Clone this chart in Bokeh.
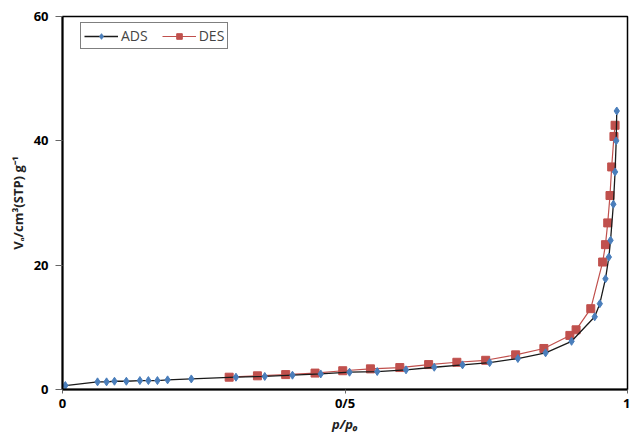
from bokeh.plotting import figure
from bokeh.models import FixedTicker, Legend, LegendItem, Range1d
from bokeh.embed import file_html
from bokeh.resources import INLINE

# Adsorption branch (ADS)
ads_p = [0.005, 0.062, 0.078, 0.092, 0.113, 0.137, 0.152, 0.168, 0.186, 0.228,
         0.307, 0.358, 0.407, 0.457, 0.508, 0.557, 0.608, 0.658, 0.708, 0.756,
         0.806, 0.855, 0.901, 0.942, 0.951, 0.961, 0.967, 0.970, 0.975, 0.978,
         0.980, 0.981]
ads_v = [0.64, 1.23, 1.23, 1.33, 1.33, 1.44, 1.44, 1.44, 1.55, 1.70,
         1.98, 2.10, 2.30, 2.50, 2.78, 2.89, 3.16, 3.58, 3.96, 4.33,
         4.98, 5.90, 7.75, 11.7, 13.8, 17.8, 21.3, 24.0, 29.8, 35.0,
         40.0, 44.8]

# Desorption branch (DES)
des_p = [0.295, 0.345, 0.395, 0.447, 0.496, 0.545, 0.597, 0.648, 0.698, 0.749,
         0.802, 0.852, 0.898, 0.909, 0.935, 0.956, 0.961, 0.965, 0.969, 0.972,
         0.976, 0.978]
des_v = [1.98, 2.20, 2.40, 2.64, 3.02, 3.32, 3.53, 4.01, 4.38, 4.70,
         5.57, 6.60, 8.70, 9.60, 13.0, 20.5, 23.3, 26.8, 31.2, 35.8,
         40.7, 42.5]

x_ticks = [0, 0.5, 1]
x_tick_labels = ["0", "0/5", "1"]
y_ticks = [0, 20, 40, 60]

FONT = "Open Sans"
BLUE = "#4A7EBB"
RED = "#C0504D"

p = figure(width=630, height=435, output_backend="svg", toolbar_location=None,
           x_range=Range1d(0, 1), y_range=Range1d(0, 60),
           min_border_left=62, min_border_right=3, min_border_top=16,
           min_border_bottom=45)

p.xgrid.visible = False
p.ygrid.visible = False
p.outline_line_color = "black"
p.outline_line_width = 1.5

p.xaxis.ticker = FixedTicker(ticks=x_ticks)
p.xaxis.major_label_overrides = {t: l for t, l in zip(x_ticks, x_tick_labels)}
p.yaxis.ticker = FixedTicker(ticks=y_ticks)

for ax in (p.xaxis[0], p.yaxis[0]):
    ax.axis_line_color = "black"
    ax.axis_line_width = 2
    ax.major_tick_in = 0
    ax.major_tick_line_color = "#666666"
    ax.minor_tick_line_color = None
    ax.major_label_text_font = FONT
    ax.major_label_text_font_style = "bold"
    ax.major_label_text_font_size = "13px"
    ax.major_label_text_color = "black"
    ax.axis_label_text_font = FONT
    ax.axis_label_text_font_size = "13px"
    ax.axis_label_text_color = "#222222"

p.xaxis.major_tick_out = 4
p.xaxis.major_label_standoff = 0
p.xaxis.axis_label = "p/p\u2080"
p.xaxis.axis_label_text_font_style = "bold italic"
p.xaxis.axis_label_standoff = 0
p.yaxis.major_tick_out = 7
p.yaxis.major_label_standoff = 7
p.yaxis.axis_label = "V\u2090/cm\u00b3(STP) g\u207b\u00b9"
p.yaxis.axis_label_text_font_style = "bold"
p.yaxis.axis_label_standoff = 4

des_line = p.line(des_p, des_v, line_color=RED, line_width=1.2)
des_pts = p.scatter(des_p, des_v, marker="square", size=8, fill_color=RED,
                    line_color=RED)
ads_line = p.line(ads_p, ads_v, line_color="#1a1a1a", line_width=1.3)
ads_pts = p.scatter(ads_p, ads_v, marker="diamond", size=8, fill_color=BLUE,
                    line_color=BLUE)

legend = Legend(items=[LegendItem(label="ADS", renderers=[ads_line, ads_pts]),
                       LegendItem(label="DES", renderers=[des_line, des_pts])],
                orientation="horizontal", location=(18, 340))
legend.margin = 0
legend.padding = 3
legend.spacing = 14
legend.glyph_width = 34
legend.glyph_height = 14
legend.label_height = 14
legend.label_text_font = FONT
legend.label_text_font_size = "14px"
legend.label_standoff = 3
legend.border_line_color = "black"
legend.border_line_width = 1
p.add_layout(legend, "center")

open("out.html", "w").write(file_html(p, INLINE))
